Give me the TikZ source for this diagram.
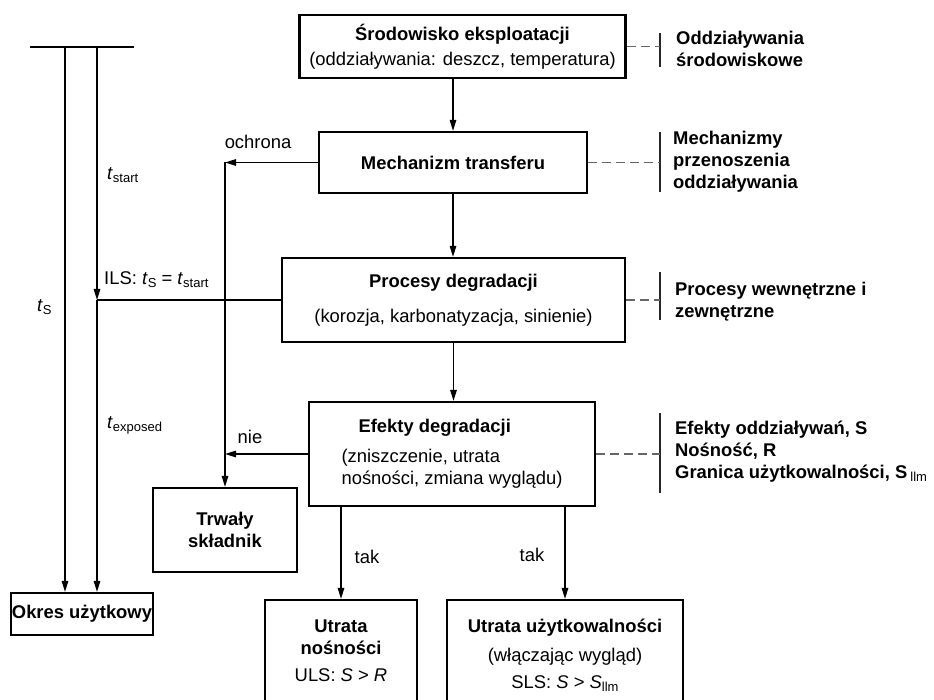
\documentclass[tikz,border=0pt]{standalone}
\usepackage{fontspec}
\setmainfont{Liberation Sans}
\usetikzlibrary{arrows.meta}
\newcommand{\lo}[1]{\raisebox{-0.3ex}{\fontsize{13}{13}\selectfont #1}}
\begin{document}
\begin{tikzpicture}[x=1pt,y=-1pt,
  every node/.style={font=\fontsize{18.4}{22}\selectfont},
  box/.style={draw, line width=2.2pt, inner sep=0pt, align=center},
  bbox/.style={box, font=\fontsize{18.4}{22}\selectfont\bfseries},
  txt/.style={inner sep=0pt, align=center},
  arr/.style={line width=1.3pt, -{Triangle[length=11pt,width=6.5pt]}},
  ln/.style={line width=1.3pt},
  dsh/.style={line width=1.3pt, draw=black!60, dash pattern=on 9pt off 5pt},
  rbar/.style={line width=2.2pt, draw=black!85},
  lbl/.style={anchor=west, inner sep=0pt, align=left, font=\fontsize{18.4}{22}\selectfont\bfseries},
  tl/.style={anchor=west, inner sep=0pt}
]
\useasboundingbox (0,0) rectangle (934,700);

% boxes
\node[box, minimum width=326pt, minimum height=63pt] (b1) at (462.5,46.5)
  {\textbf{Środowisko eksploatacji}\\[3pt](oddziaływania: deszcz, temperatura)};
\node[bbox, minimum width=268pt, minimum height=61pt] (b2) at (453,162.5) {Mechanizm transferu};
\node[box, minimum width=343pt, minimum height=84pt] (b3) at (453.5,300)
  {\textbf{Procesy degradacji}\\[13pt](korozja, karbonatyzacja, sinienie)};
\node[box, align=left, minimum width=286pt, minimum height=104pt] (b4) at (452,454)
  {\hspace*{17pt}\textbf{Efekty degradacji}\\[8pt](zniszczenie, utrata\\nośności, zmiana wyglądu)};
\node[bbox, minimum width=144pt, minimum height=84pt] (b5) at (225,530) {Trwały\\składnik};
\node[bbox, minimum width=142pt, minimum height=42pt] (b6) at (82,614) {Okres użytkowy};
\node[box, minimum width=152pt, minimum height=120pt] (b7) at (341,660) {};
\node[box, minimum width=236pt, minimum height=120pt] (b8) at (565,660) {};
\node[txt] (t7) at (341,651) {\textbf{Utrata}\\\textbf{nośności}\\[5pt]ULS: \textit{S} > \textit{R}};
\node[txt] (t8) at (565,655) {\textbf{Utrata użytkowalności}\\[7pt](włączając wygląd)\\[5pt]SLS: \textit{S} > \textit{S}\lo{llm}};

% main flow arrows
\draw[arr] (b1.south -| b2.north) -- (b2.north);
\draw[arr] (b2.south) -- (b2.south |- b3.north);
\draw[arr] (b3.south) -- (b3.south |- b4.north);
\draw[arr] (b4.south -| b7.north) -- (b7.north);
\draw[arr] (b4.south -| b8.north) -- (b8.north);
\node[txt] (tak1) at (367,557) {tak};
\node[txt] (tak2) at (532,555) {tak};

% ochrona / nie
\coordinate (oc) at (225,162.5);
\draw[arr] (b2.west) -- (oc);
\draw[arr] (oc) -- (b5.north);
\draw[arr] (b4.west) -- (b4.west -| oc);
\node[txt] (och) at (258,142) {ochrona};
\node[txt] (nie) at (250,437) {nie};

% left time lines
\coordinate (h1) at (30,47);
\coordinate (h2) at (134,47);
\draw[ln] (h1) -- (h2);
\coordinate (v1) at (65,47);
\coordinate (v2) at (97,47);
\coordinate (ils) at (97,300);
\draw[arr] (v1) -- (v1 |- b6.north);
\draw[arr] (v2) -- (ils);
\draw[arr] (ils) -- (ils |- b6.north);
\draw[ln] (b3.west) -- (ils);
\node[tl] (lstart) at (107,175) {\textit{t}\lo{start}};
\node[tl] (lils) at (104,280) {ILS: \textit{t}\lo{S} = \textit{t}\lo{start}};
\node[tl] (lts) at (37,307) {\textit{t}\lo{S}};
\node[tl] (lexp) at (107,425) {\textit{t}\lo{exposed}};

% right side labels
\coordinate (r1t) at (660,33);  \coordinate (r1b) at (660,67);
\coordinate (r2t) at (660,132); \coordinate (r2b) at (660,192);
\coordinate (r3t) at (660,272); \coordinate (r3b) at (660,320);
\coordinate (r4t) at (660,413); \coordinate (r4b) at (660,493);
\draw[rbar] (r1t) -- (r1b);
\draw[rbar] (r2t) -- (r2b);
\draw[rbar] (r3t) -- (r3b);
\draw[rbar] (r4t) -- (r4b);
\draw[dsh] (b1.east) -- (b1.east -| r1t);
\draw[dsh] (b2.east) -- (b2.east -| r2t);
\draw[dsh] (b3.east) -- (b3.east -| r3t);
\draw[dsh] (b4.east) -- (b4.east -| r4t);
\node[lbl] (l1) at (676,49) {Oddziaływania\\środowiskowe};
\node[lbl] (l2) at (673,162) {Mechanizmy\\przenoszenia\\oddziaływania};
\node[lbl] (l3) at (675,302) {Procesy wewnętrzne i\\zewnętrzne};
\node[lbl] (l4) at (675,452) {Efekty oddziaływań, S\\Nośność, R\\Granica użytkowalności, S\,\lo{\mdseries llm}};
\end{tikzpicture}
\end{document}
